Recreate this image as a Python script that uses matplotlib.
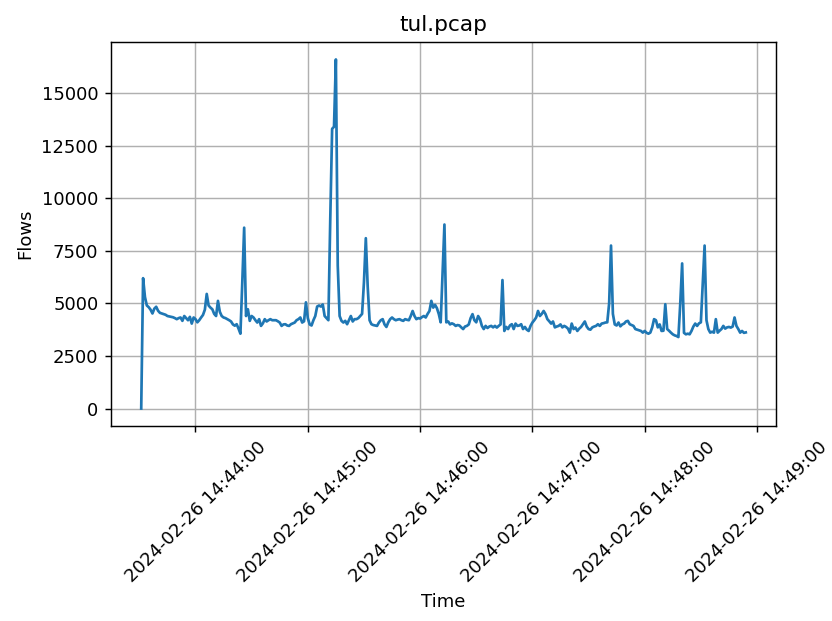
import matplotlib
matplotlib.use("Agg")
import matplotlib.pyplot as plt
import matplotlib.dates as mdates
import pandas as pd

# flows per second, split per minute (first sample at 14:43:31)
flows_1443 = [0, 6200, 5300, 4900, 4820, 4700, 4520, 4750, 4840, 4650,
              4550, 4520, 4490, 4460, 4400, 4380, 4360, 4340, 4300, 4250,
              4300, 4330, 4170, 4400, 4300, 4200, 4360, 4040, 4330]
flows_1444 = [4250, 4100, 4200, 4330, 4450, 4700, 5450, 4900, 4800, 4720,
              4500, 4400, 5120, 4600, 4400, 4330, 4300, 4250, 4200, 4140,
              4000, 3940, 4010, 3800, 3560, 6000, 8600, 4400, 4720, 4170,
              4400, 4330, 4200, 4090, 4250, 3930, 4050, 4250, 4140, 4200,
              4250, 4200, 4200, 4200, 4150, 4090, 3930, 4000, 4010, 3950,
              3930, 4010, 4050, 4090, 4200, 4250, 4330, 4090, 4150, 5050]
flows_1445 = [4300, 4000, 3950, 4200, 4400, 4850, 4900, 4850, 4950, 4400,
              4300, 4200, 9000, 13300, 13400, 16600, 6800, 4400, 4170, 4090,
              4170, 4010, 4200, 4400, 4140, 4250, 4250, 4300, 4400, 4500,
              6000, 8100, 5800, 4200, 4010, 3970, 3950, 3930, 4090, 4200,
              4250, 4000, 3880, 4100, 4250, 4330, 4250, 4200, 4230, 4250,
              4200, 4170, 4250, 4220, 4200, 4400, 4640, 4400, 4250, 4300]
flows_1446 = [4280, 4350, 4400, 4330, 4500, 4640, 5120, 4800, 4930, 4770,
              4490, 4100, 6400, 8750, 4100, 4140, 4000, 4050, 4010, 3930,
              3970, 3950, 3860, 3780, 3900, 3930, 4000, 4300, 4490, 4200,
              4100, 4400, 4250, 3930, 3780, 3930, 3830, 3900, 3930, 3860,
              3930, 3850, 3930, 4000, 6110, 3690, 3880, 3780, 3950, 4010,
              3780, 4040, 3930, 3950, 4010, 3780, 3880, 3750, 3690, 3930]
flows_1447 = [4090, 4200, 4330, 4640, 4400, 4500, 4640, 4490, 4250, 4150,
              4040, 4140, 3860, 3900, 3930, 4000, 3860, 3930, 3880, 3800,
              3610, 4040, 3780, 3850, 3690, 3800, 3880, 4010, 4140, 3900,
              3780, 3750, 3860, 3900, 3930, 4010, 3930, 4040, 4060, 4090,
              4100, 5000, 7750, 4500, 4000, 3950, 4090, 3910, 4000, 4040,
              4140, 4170, 4010, 3970, 3930, 3780, 3750, 3720, 3690, 3610]
flows_1448 = [3690, 3600, 3560, 3610, 3860, 4250, 4200, 3860, 4000, 3690,
              3700, 4960, 3780, 3700, 3610, 3530, 3480, 3450, 3400, 5000,
              6900, 3600, 3530, 3560, 3530, 3690, 3900, 4040, 3930, 4050,
              4100, 5900, 7750, 4200, 3780, 3610, 3650, 3610, 4250, 3610,
              3700, 3780, 3930, 3800, 3860, 3880, 3850, 3900, 4330, 3930,
              3780, 3610, 3690, 3600, 3620]

flows = flows_1443 + flows_1444 + flows_1445 + flows_1446 + flows_1447 + flows_1448
times = pd.date_range("2024-02-26 14:43:31", periods=len(flows), freq="1s")

fig, ax = plt.subplots(figsize=(6.4, 621 / 130), dpi=130)
fig.subplots_adjust(left=0.1334, right=0.9327, top=0.9324, bottom=0.314)

ax.plot(times, flows)
ax.set_title("tul.pcap")
ax.set_xlabel("Time")
ax.set_ylabel("Flows")
ax.xaxis.set_major_locator(mdates.MinuteLocator())
ax.xaxis.set_major_formatter(mdates.DateFormatter("%Y-%m-%d %H:%M:%S"))
plt.xticks(rotation=45)
ax.grid(True)

fig.savefig("out.png")
